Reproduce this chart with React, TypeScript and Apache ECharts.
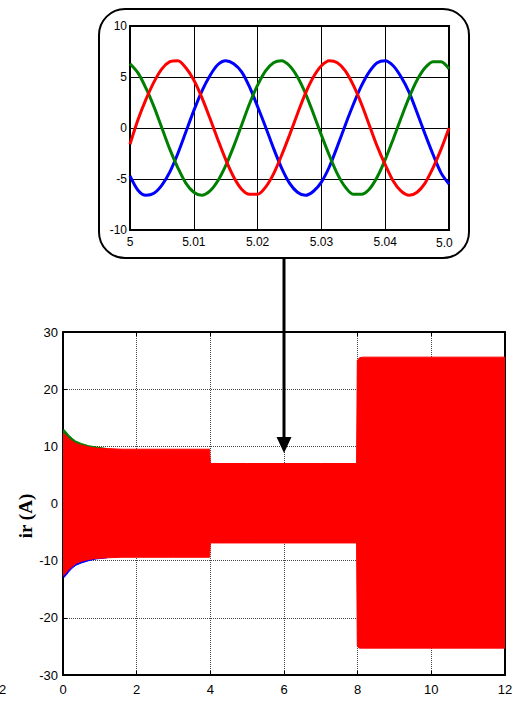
import React, { useEffect, useRef } from "react";
import * as echarts from "echarts";

// ---------- inset (zoomed three-phase currents, t = 5 .. 5.05 s) ----------
const insetTime = [
  5, 5.00125, 5.0025, 5.00375, 5.005, 5.00625, 5.0075, 5.00875, 5.01, 5.01125,
  5.0125, 5.01375, 5.015, 5.01625, 5.0175, 5.01875, 5.02, 5.02125, 5.0225, 5.02375,
  5.025, 5.02625, 5.0275, 5.02875, 5.03, 5.03125, 5.0325, 5.03375, 5.035, 5.03625,
  5.0375, 5.03875, 5.04, 5.04125, 5.0425, 5.04375, 5.045, 5.04625, 5.0475, 5.04875, 5.05,
];
const insetRed = [
  -1.6, 0.8, 2.8, 4.5, 5.8, 6.5, 6.6, 5.9, 4.7, 3.0,
  1.0, -1.1, -3.1, -4.8, -6.0, -6.5, -6.5, -5.8, -4.5, -2.7,
  -0.7, 1.4, 3.4, 5.0, 6.1, 6.6, 6.4, 5.6, 4.2, 2.4,
  0.3, -1.8, -3.6, -5.2, -6.2, -6.6, -6.3, -5.4, -3.9, -2.1, 0.0,
];
const insetBlue = [
  -4.7, -6.1, -6.6, -6.4, -5.6, -4.3, -2.5, -0.4, 1.7, 3.6,
  5.1, 6.2, 6.6, 6.3, 5.5, 4.0, 2.1, 0.1, -2.0, -3.9,
  -5.4, -6.3, -6.6, -6.2, -5.3, -3.8, -1.8, 0.3, 2.3, 4.1,
  5.5, 6.4, 6.6, 6.1, 5.0, 3.5, 1.5, -0.6, -2.6, -4.4, -5.5,
];
const insetGreen = [
  6.3, 5.4, 3.9, 2.1, 0.0, -2.1, -3.9, -5.4, -6.3, -6.6,
  -6.2, -5.2, -3.7, -1.8, 0.3, 2.4, 4.2, 5.6, 6.4, 6.6,
  6.1, 5.0, 3.4, 1.4, -0.7, -2.7, -4.5, -5.8, -6.5, -6.5,
  -6.0, -4.8, -3.1, -1.1, 1.0, 3.0, 4.7, 5.9, 6.5, 6.5, 5.8,
];
const insetXTicks = ["5", "5.01", "5.02", "5.03", "5.04"];

// ---------- main chart (envelope of rotor currents, 0 .. 12 s) ----------
const mainTime = [0, 0.03, 0.08, 0.15, 0.25, 0.35, 0.5, 0.7, 0.9, 1.2, 1.6, 2.0, 3.0, 3.98, 4.0, 4.05, 5.0, 6.0, 7.0, 7.97, 7.99, 8.05, 8.15, 9.0, 10.0, 11.0, 12.0];
const redUpper = [12.3, 12.2, 11.9, 11.4, 10.9, 10.5, 10.2, 9.9, 9.7, 9.6, 9.5, 9.5, 9.5, 9.5, 7.0, 7.0, 7.0, 7.0, 7.0, 7.0, 25.0, 25.5, 25.6, 25.6, 25.6, 25.6, 25.6];
const redLower = [-12.5, -12.5, -12.1, -11.6, -11.0, -10.5, -10.1, -9.8, -9.6, -9.5, -9.4, -9.4, -9.4, -9.4, -6.9, -6.9, -6.9, -6.9, -6.9, -6.9, -25.0, -25.3, -25.3, -25.3, -25.3, -25.3, -25.3];
const transientTime = [0, 0.03, 0.08, 0.15, 0.25, 0.35, 0.5, 0.7, 0.9, 1.2];
const greenUpper = [12.8, 12.9, 12.6, 12.0, 11.4, 10.9, 10.5, 10.1, 9.9, 9.6];
const blueLower = [-12.6, -12.9, -12.6, -12.0, -11.3, -10.8, -10.4, -10.0, -9.7, -9.5];

const zip = (xs: number[], ys: number[]) => xs.map((x, i) => [x, ys[i]]);
const FONT = '"Liberation Sans", Arial, sans-serif';

export default function App() {
  const ref = useRef<HTMLDivElement>(null);
  useEffect(() => {
    if (!ref.current) return;
    const chart = echarts.init(ref.current, undefined, { renderer: "svg" });
    const mainAxisLine = { onZero: false, lineStyle: { color: "#000", width: 2 } };
    const mainTick = { inside: true, length: 4, lineStyle: { color: "#000", width: 1 } };
    const mainSplit = { show: true, lineStyle: { color: "#444", type: [1, 1], width: 1 } };
    const insetSplit = { show: true, lineStyle: { color: "#000", type: "solid", width: 1 } };
    const mainLabel = { color: "#000", fontSize: 13, fontFamily: FONT };

    const areaSeries = (data: number[][], color: string, z: number, origin: number) => ({
      type: "line",
      xAxisIndex: 0,
      yAxisIndex: 0,
      data,
      showSymbol: false,
      symbol: "none",
      lineStyle: { color, width: 1 },
      areaStyle: { color, opacity: 1, origin },
      z,
      silent: true,
    });
    const insetSeries = (data: number[], color: string) => ({
      type: "line",
      xAxisIndex: 2,
      yAxisIndex: 2,
      data: zip(insetTime, data),
      showSymbol: false,
      symbol: "none",
      smooth: 0.3,
      lineStyle: { color, width: 3 },
      silent: true,
      z: 5,
    });

    chart.setOption({
      animation: false,
      backgroundColor: "#fff",
      grid: [
        { left: 63, top: 332, width: 442, height: 343, show: false },
        { left: 130, top: 26, width: 319, height: 204, show: true, borderColor: "#000", borderWidth: 2, backgroundColor: "transparent" },
      ],
      xAxis: [
        {
          type: "value", gridIndex: 0, min: 0, max: 12, interval: 2,
          axisLine: mainAxisLine, axisTick: mainTick,
          axisLabel: { ...mainLabel, margin: 8 },
          splitLine: mainSplit,
        },
        {
          type: "value", gridIndex: 0, min: 0, max: 12, interval: 2, position: "top",
          axisLine: mainAxisLine, axisTick: mainTick,
          axisLabel: { show: false }, splitLine: { show: false },
        },
        {
          type: "value", gridIndex: 1, min: 5, max: 5.05, interval: 0.01,
          axisLine: { onZero: false, lineStyle: { color: "#000", width: 2 } },
          axisTick: { show: false },
          axisLabel: {
            color: "#000", fontSize: 12, fontFamily: FONT, margin: 6, showMaxLabel: false,
            formatter: (v: number) => insetXTicks[Math.round((v - 5) * 100)] ?? "",
          },
          splitLine: insetSplit,
        },
      ],
      yAxis: [
        {
          type: "value", gridIndex: 0, min: -30, max: 30, interval: 10,
          axisLine: mainAxisLine, axisTick: mainTick,
          axisLabel: { ...mainLabel, margin: 5 },
          splitLine: mainSplit,
        },
        {
          type: "value", gridIndex: 0, min: -30, max: 30, interval: 10, position: "right",
          axisLine: mainAxisLine, axisTick: mainTick,
          axisLabel: { show: false }, splitLine: { show: false },
        },
        {
          type: "value", gridIndex: 1, min: -10, max: 10, interval: 5,
          axisLine: { onZero: false, lineStyle: { color: "#000", width: 2 } },
          axisTick: { show: false },
          axisLabel: { color: "#000", fontSize: 12, fontFamily: FONT, margin: 3 },
          splitLine: insetSplit,
        },
      ],
      series: [
        areaSeries(zip(transientTime, greenUpper), "#008000", 2, 0),
        areaSeries(zip(transientTime, blueLower), "#0000ff", 2, 0),
        areaSeries(zip(mainTime, redUpper), "#ff0000", 3, -1),
        areaSeries(zip(mainTime, redLower), "#ff0000", 3, 1),
        insetSeries(insetBlue, "#0000ff"),
        insetSeries(insetGreen, "#008000"),
        insetSeries(insetRed, "#ff0000"),
      ],
      graphic: [
        {
          type: "rect", z: 1,
          shape: { x: 99, y: 9, width: 370, height: 249, r: 26 },
          style: { fill: "none", stroke: "#000", lineWidth: 2 },
        },
        {
          type: "line", z: 100,
          shape: { x1: 284, y1: 258, x2: 284, y2: 440 },
          style: { stroke: "#000", lineWidth: 3 },
        },
        {
          type: "polygon", z: 100,
          shape: { points: [[276.5, 437], [291.5, 437], [284, 453]] },
          style: { fill: "#000" },
        },
        {
          type: "text", z: 100, x: 436, y: 243,
          style: { text: "5.0", font: `12px ${FONT}`, fill: "#000", align: "left", verticalAlign: "middle" },
        },
        {
          type: "text", z: 100, x: 25, y: 516, rotation: Math.PI / 2,
          style: { text: "ir (A)", font: 'bold 19px "Liberation Serif", "Times New Roman", serif', fill: "#000", align: "center", verticalAlign: "middle" },
        },
        {
          type: "text", z: 100, x: -1, y: 689,
          style: { text: "2", font: `13px ${FONT}`, fill: "#000", align: "left", verticalAlign: "middle" },
        },
      ],
    });
    return () => chart.dispose();
  }, []);
  return (
    <div
      ref={ref}
      style={{ position: "fixed", left: 0, top: 0, width: 518, height: 701, background: "#fff" }}
    />
  );
}
